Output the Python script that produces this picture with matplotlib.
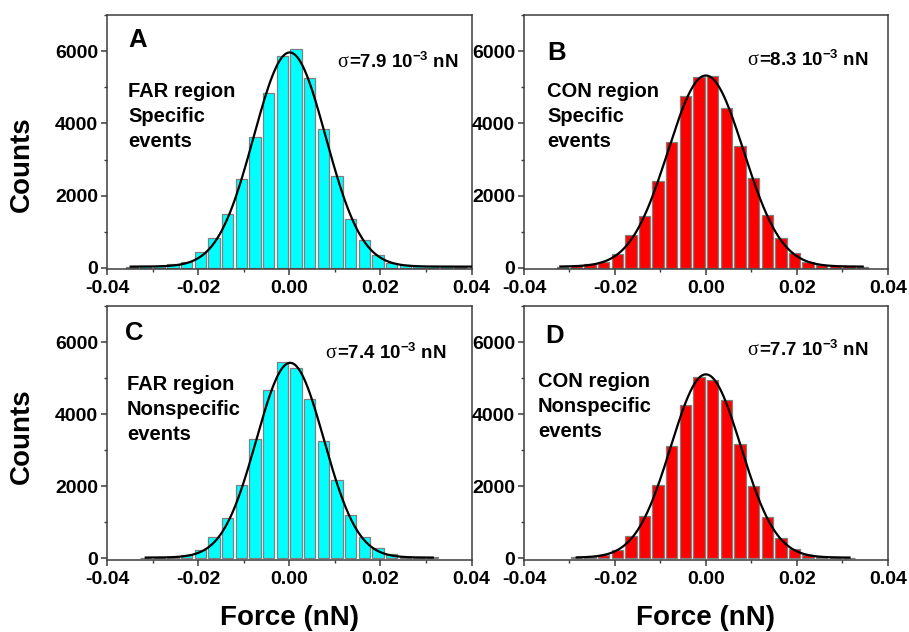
import numpy as np
import matplotlib
matplotlib.use("Agg")
import matplotlib.pyplot as plt
from matplotlib.ticker import MultipleLocator

plt.rcParams['font.family'] = ['Liberation Sans', 'DejaVu Sans']
plt.rcParams['font.weight'] = 'bold'
plt.rcParams['mathtext.fontset'] = 'custom'
plt.rcParams['mathtext.rm'] = 'Liberation Sans:bold'
plt.rcParams['mathtext.it'] = 'Liberation Sans:bold'
plt.rcParams['mathtext.bf'] = 'Liberation Sans:bold'
plt.rcParams['mathtext.default'] = 'rm'

# ---- data ----
centers_A = [-0.0345, -0.0315, -0.0285, -0.0255, -0.0225, -0.0195, -0.0165, -0.0135, -0.0105,
             -0.0075, -0.0045, -0.0015, 0.0015, 0.0045, 0.0075, 0.0105, 0.0135, 0.0165,
             0.0195, 0.0225, 0.0255, 0.0285, 0.0315, 0.0345, 0.0375]
counts_A = [20, 40, 50, 90, 166, 432, 828, 1490, 2456, 3625, 4848, 5880, 6063, 5271, 3855,
            2539, 1352, 782, 359, 140, 80, 60, 45, 35, 30]

centers_B = [-0.0315, -0.0285, -0.0255, -0.0225, -0.0195, -0.0165, -0.0135, -0.0105, -0.0075,
             -0.0045, -0.0015, 0.0015, 0.0045, 0.0075, 0.0105, 0.0135, 0.0165, 0.0195,
             0.0225, 0.0255, 0.0285, 0.0315, 0.0345]
counts_B = [18, 46, 92, 156, 368, 911, 1426, 2410, 3487, 4775, 5300, 5327, 4434, 3376, 2484,
            1463, 810, 414, 166, 83, 46, 37, 18]

centers_C = [-0.0315, -0.0285, -0.0255, -0.0225, -0.0195, -0.0165, -0.0135, -0.0105, -0.0075,
             -0.0045, -0.0015, 0.0015, 0.0045, 0.0075, 0.0105, 0.0135, 0.0165, 0.0195,
             0.0225, 0.0255, 0.0285, 0.0315]
counts_C = [18, 37, 55, 110, 248, 607, 1132, 2024, 3312, 4683, 5455, 5271, 4425, 3247, 2180,
            1196, 589, 285, 120, 55, 37, 28]

centers_D = [-0.0285, -0.0255, -0.0225, -0.0195, -0.0165, -0.0135, -0.0105, -0.0075, -0.0045,
             -0.0015, 0.0015, 0.0045, 0.0075, 0.0105, 0.0135, 0.0165, 0.0195, 0.0225,
             0.0255, 0.0285, 0.0315]
counts_D = [28, 55, 110, 248, 616, 1187, 2024, 3119, 4259, 5041, 4949, 4406, 3165, 2006, 1141,
            580, 276, 110, 55, 28, 18]

# Gaussian fit parameters per panel: offset, centre, sigma (nN), amplitude, x-range of the fit curve
fit_A = dict(y0=30, xc=0.0001, sigma=0.0079, amp=5940, xmin=-0.0348, xmax=0.0400)
fit_B = dict(y0=30, xc=0.0000, sigma=0.0083, amp=5300, xmin=-0.0320, xmax=0.0345)
fit_C = dict(y0=25, xc=0.0002, sigma=0.0074, amp=5400, xmin=-0.0315, xmax=0.0315)
fit_D = dict(y0=25, xc=0.0000, sigma=0.0077, amp=5080, xmin=-0.0284, xmax=0.0316)

letters = ['A', 'B', 'C', 'D']
region_lines = [['FAR region', 'Specific', 'events'],
                ['CON region', 'Specific', 'events'],
                ['FAR region', 'Nonspecific', 'events'],
                ['CON region', 'Nonspecific', 'events']]
sigma_values = ['7.9', '8.3', '7.4', '7.7']
bar_colors = ['#00FFFF', '#FF0000', '#00FFFF', '#FF0000']
xticks = [-0.04, -0.02, 0.00, 0.02, 0.04]
xticklabels = ['-0.04', '-0.02', '0.00', '0.02', '0.04']
yticks = [0, 2000, 4000, 6000]

W, H = 909, 632
fig = plt.figure(figsize=(W / 100, H / 100), dpi=100)

def ax_rect(l, r, t, b):
    return [l / W, 1 - b / H, (r - l) / W, (b - t) / H]

rects = [ax_rect(107, 471.5, 15.3, 269.5), ax_rect(524, 887.7, 15.3, 269.5),
         ax_rect(107, 471.5, 306, 560.3), ax_rect(524, 887.7, 306, 560.3)]

# text positions (axes fraction)
letter_pos = [(0.058, 0.875), (0.063, 0.824), (0.049, 0.866), (0.058, 0.8545)]
lines_pos = [(0.058, [0.6786, 0.580, 0.4815]), (0.063, [0.6786, 0.580, 0.4815]),
             (0.055, [0.670, 0.571, 0.473]), (0.0384, [0.682, 0.583, 0.485])]
sigma_pos = [(0.631, 0.797), (0.6145, 0.8045), (0.598, 0.7955), (0.6145, 0.807)]

data = [(centers_A, counts_A, fit_A), (centers_B, counts_B, fit_B),
        (centers_C, counts_C, fit_C), (centers_D, counts_D, fit_D)]

spine_col = '#3c3c3c'
for i in range(4):
    ax = fig.add_axes(rects[i])
    c, n, f = data[i]
    ax.bar(c, n, width=0.0025, color=bar_colors[i], edgecolor='#808080', linewidth=0.9, zorder=2)
    xf = np.linspace(f['xmin'], f['xmax'], 400)
    yf = f['y0'] + f['amp'] * np.exp(-0.5 * ((xf - f['xc']) / f['sigma']) ** 2)
    ax.plot(xf, yf, color='black', lw=1.6, zorder=3)
    ax.set_xlim(-0.04, 0.04)
    ax.set_ylim(-50, 7000)
    ax.set_xticks(xticks)
    ax.set_xticklabels(xticklabels)
    ax.set_yticks(yticks)
    ax.xaxis.set_minor_locator(MultipleLocator(0.01))
    ax.yaxis.set_minor_locator(MultipleLocator(1000))
    ax.tick_params(which='major', direction='out', length=4.5, width=1.1, colors=spine_col,
                   labelcolor='black', labelsize=14, top=False, right=False)
    ax.tick_params(axis='y', which='major', pad=2)
    ax.tick_params(axis='x', which='major', pad=3)
    ax.tick_params(which='minor', direction='out', length=2.5, width=1.0, colors=spine_col,
                   top=False, right=False)
    for lab in ax.get_xticklabels() + ax.get_yticklabels():
        lab.set_fontweight('bold')
    for s in ax.spines.values():
        s.set_color(spine_col)
        s.set_linewidth(1.1)
    lx, ly = letter_pos[i]
    ax.text(lx, ly, letters[i], transform=ax.transAxes, fontsize=18.5, fontweight='bold',
            ha='left', va='baseline')
    tx, tys = lines_pos[i]
    for line, ty in zip(region_lines[i], tys):
        ax.text(tx, ty, line, transform=ax.transAxes, fontsize=14.5, fontweight='bold',
                ha='left', va='baseline')
    sx, sy = sigma_pos[i]
    t1 = ax.text(sx, sy, 'σ', transform=ax.transAxes, fontsize=14.5,
                 family=['Liberation Serif', 'DejaVu Serif'], fontweight='normal',
                 ha='left', va='baseline')
    ax.annotate('=' + sigma_values[i] + ' 10$^{-3}$ nN', xy=(1, 0), xycoords=t1,
                xytext=(0.5, 0), textcoords='offset points', fontsize=13.5, fontweight='bold',
                ha='left', va='bottom')

# shared labels
fig.text(22 / W, 1 - 164 / H, 'Counts', rotation=90, fontsize=20, fontweight='bold',
         ha='center', va='center')
fig.text(22 / W, 1 - 436 / H, 'Counts', rotation=90, fontsize=20, fontweight='bold',
         ha='center', va='center')
fig.text(289.5 / W, 1 - 625 / H, 'Force (nN)', fontsize=20, fontweight='bold',
         ha='center', va='baseline')
fig.text(705.5 / W, 1 - 625 / H, 'Force (nN)', fontsize=20, fontweight='bold',
         ha='center', va='baseline')

fig.savefig('out.png', dpi=100)
